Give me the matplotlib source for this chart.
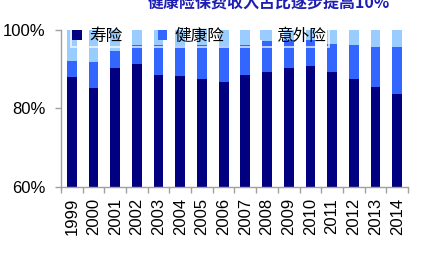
import matplotlib
matplotlib.use("Agg")
import matplotlib.pyplot as plt
import numpy as np

years = ["1999", "2000", "2001", "2002", "2003", "2004", "2005", "2006",
         "2007", "2008", "2009", "2010", "2011", "2012", "2013", "2014"]
life = [88.0, 85.2, 90.3, 91.2, 88.5, 88.2, 87.6, 86.8,
        88.5, 89.3, 90.2, 90.9, 89.3, 87.6, 85.5, 83.6]
health = [4.1, 6.5, 4.4, 4.9, 7.6, 7.8, 8.5, 9.1,
          7.6, 7.9, 7.2, 6.6, 7.0, 8.5, 10.2, 12.1]
accident = [7.9, 8.3, 5.3, 3.9, 3.9, 4.0, 3.9, 4.1,
            3.9, 2.8, 2.6, 2.5, 3.7, 3.9, 4.3, 4.3]
series_names = ["寿险", "健康险", "意外险"]
title_text = "健康险保费收入占比逐步提高10%"
yticks = [60, 80, 100]
ytick_labels = ["60%", "80%", "100%"]

colors = ["#000080", "#3366FF", "#99CCFF"]

plt.rcParams['font.family'] = ['Liberation Sans', 'Noto Sans CJK SC', 'DejaVu Sans']

fig = plt.figure(figsize=(4.25, 2.64), dpi=100)
ax = fig.add_axes([0.1435, 0.2917, 0.8165, 0.5953])

x = np.arange(len(years))
life_a = np.array(life)
health_a = np.array(health)
acc_a = np.array(accident)
w = 0.45
ax.bar(x, life_a, w, color=colors[0], label=series_names[0], linewidth=0)
ax.bar(x, health_a, w, bottom=life_a, color=colors[1], label=series_names[1], linewidth=0)
ax.bar(x, acc_a, w, bottom=life_a + health_a, color=colors[2], label=series_names[2], linewidth=0)

ax.set_xlim(-0.5, len(years) - 0.5)
ax.set_ylim(60, 100)
ax.set_yticks(yticks)
ax.set_yticklabels(ytick_labels, fontsize=12)
ax.set_xticks(x)
ax.set_xticklabels(years, rotation=90, fontsize=12)
ax.set_xticks(np.arange(-0.5, len(years), 1.0), minor=True)
ax.tick_params(axis='x', which='major', length=0, pad=8)
ax.tick_params(axis='x', which='minor', length=4, color='#A0A0A0', width=1)
ax.tick_params(axis='y', length=4, color='#A0A0A0', width=1, pad=7)

for s in ['top', 'right']:
    ax.spines[s].set_visible(False)
for s in ['left', 'bottom']:
    ax.spines[s].set_color('#A0A0A0')
    ax.spines[s].set_linewidth(1)

leg = ax.legend(loc='upper left', bbox_to_anchor=(0.028, 1.02), ncol=3,
                prop={'family': ['Noto Sans CJK SC'], 'size': 12},
                handlelength=0.55, handleheight=0.55, handletextpad=0.45,
                columnspacing=2.15, frameon=True, fancybox=False,
                borderpad=0.1, borderaxespad=0)
leg.get_frame().set_facecolor('none')
leg.get_frame().set_edgecolor('white')
leg.get_frame().set_linewidth(1.2)

fig.text(0.632, 0.958, title_text, ha='center', va='bottom', fontsize=11.5,
         fontweight='bold', color='#1E1EB4',
         family=['Noto Sans CJK SC', 'DejaVu Sans'])

fig.savefig("out.png", dpi=100)
